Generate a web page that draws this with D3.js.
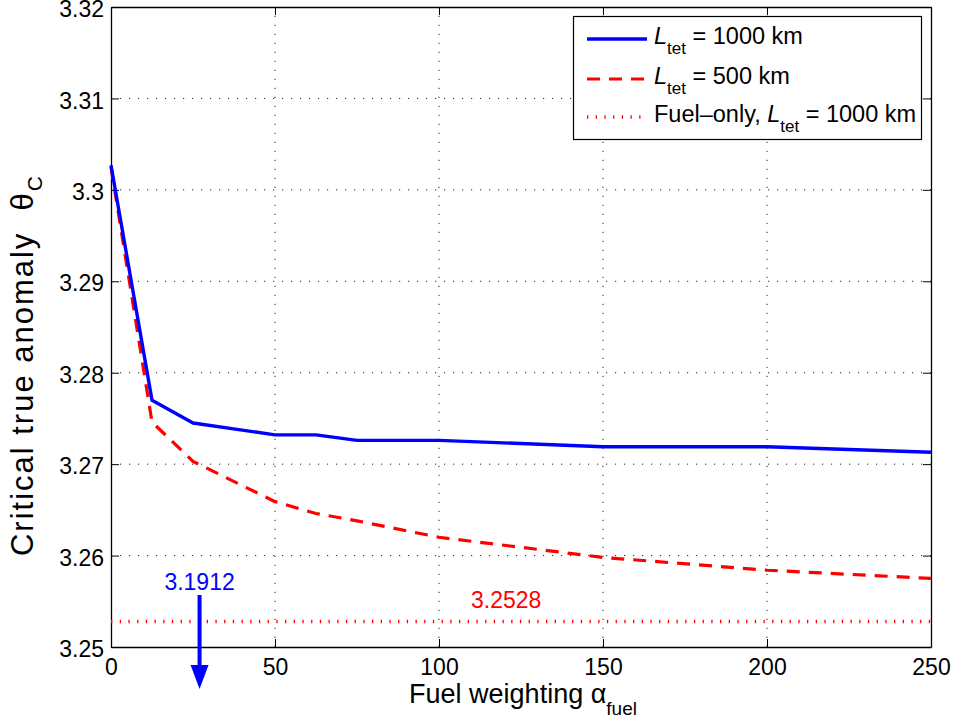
<!DOCTYPE html>
<html>
<head>
<meta charset="utf-8">
<script src="https://cdn.jsdelivr.net/npm/d3@7"></script>
<style>
body { margin: 0; background: #fff; }
text { font-family: "Liberation Sans", Arial, Helvetica, sans-serif; white-space: pre; }
</style>
</head>
<body>
<div id="chart"></div>
<script>
// Data
var alpha = [0, 12.5, 25, 50, 62.5, 75, 100, 150, 200, 250];
var theta1000 = [3.3027, 3.2770, 3.2745, 3.2732, 3.2732, 3.2726, 3.2726, 3.2719, 3.2719, 3.2713];
var theta500 = [3.3025, 3.2746, 3.2703, 3.2659, 3.2646, 3.2638, 3.2620, 3.2598, 3.2584, 3.2575];
var fuelOnly = 3.2528;
var xTicks = [0, 50, 100, 150, 200, 250];
var yTicks = [3.25, 3.26, 3.27, 3.28, 3.29, 3.30, 3.31, 3.32];
var yTickLabels = ['3.25', '3.26', '3.27', '3.28', '3.29', '3.3', '3.31', '3.32'];
// annotations
var arrowAlpha = 27, arrowLabel = '3.1912';
var fuelLabelAlpha = 120.5, fuelLabel = '3.2528';

var width = 956, height = 725;
var mLeft = 111, mRight = 931, mTop = 7, mBottom = 647;

var svg = d3.select('#chart').append('svg')
    .attr('width', width)
    .attr('height', height);

var x = d3.scaleLinear().domain([0, 250]).range([mLeft, mRight]);
var y = d3.scaleLinear().domain([3.25, 3.32]).range([mBottom, mTop]);

// grid
var grid = svg.append('g').attr('stroke', '#222').attr('stroke-width', 1).attr('stroke-dasharray', '1.2,7.8');
grid.selectAll('.gx').data(xTicks.slice(1, -1)).enter().append('line')
    .attr('x1', d => x(d)).attr('x2', d => x(d))
    .attr('y1', mBottom).attr('y2', mTop);
grid.selectAll('.gy').data(yTicks.slice(1, -1)).enter().append('line')
    .attr('x1', mLeft).attr('x2', mRight)
    .attr('y1', d => y(d)).attr('y2', d => y(d));

// axes (ticks pointing inward)
svg.append('g')
    .attr('class', 'xAxis')
    .attr('transform', 'translate(0,' + mBottom + ')')
    .call(d3.axisBottom(x).tickValues(xTicks).tickSizeInner(-8).tickSizeOuter(0).tickPadding(12));
svg.append('g')
    .attr('transform', 'translate(0,' + mTop + ')')
    .call(d3.axisTop(x).tickValues(xTicks).tickSizeInner(-8).tickSizeOuter(0).tickFormat(''));
svg.append('g')
    .attr('class', 'yAxis')
    .attr('transform', 'translate(' + mLeft + ',0)')
    .call(d3.axisLeft(y).tickValues(yTicks).tickSizeInner(-8).tickSizeOuter(0).tickPadding(7)
        .tickFormat((d, i) => yTickLabels[i]));
svg.append('g')
    .attr('transform', 'translate(' + mRight + ',0)')
    .call(d3.axisRight(y).tickValues(yTicks).tickSizeInner(-8).tickSizeOuter(0).tickFormat(''));

svg.selectAll('.domain').attr('stroke', '#000').attr('stroke-width', 1.3);
svg.selectAll('.tick line').attr('stroke', '#000').attr('stroke-width', 1);
svg.selectAll('.tick text').attr('font-size', 23).attr('fill', '#000')
    .style('font-family', '"Liberation Sans", Arial, sans-serif');
svg.selectAll('.yAxis .tick text').attr('dy', '0.42em');

// lines
var line = d3.line().x(d => x(d[0])).y(d => y(d[1]));

svg.append('path')
    .datum(alpha.map((a, i) => [a, theta500[i]]))
    .attr('d', line)
    .attr('fill', 'none')
    .attr('stroke', '#ff0000')
    .attr('stroke-width', 3.2)
    .attr('stroke-dasharray', '13,9');

svg.append('path')
    .datum(alpha.map((a, i) => [a, theta1000[i]]))
    .attr('d', line)
    .attr('fill', 'none')
    .attr('stroke', '#0000ff')
    .attr('stroke-width', 3.4)
    .attr('stroke-linejoin', 'round');

svg.append('line')
    .attr('x1', x(0)).attr('x2', x(250))
    .attr('y1', y(fuelOnly)).attr('y2', y(fuelOnly))
    .attr('stroke', '#ff0000')
    .attr('stroke-width', 3.5)
    .attr('stroke-dasharray', '1.3,7.4');

// annotations
svg.append('text')
    .attr('x', x(fuelLabelAlpha)).attr('y', y(fuelOnly) - 13)
    .attr('text-anchor', 'middle')
    .attr('font-size', 23).attr('fill', '#ff0000')
    .text(fuelLabel);

var ax = x(arrowAlpha);
svg.append('text')
    .attr('x', ax).attr('y', 590)
    .attr('text-anchor', 'middle')
    .attr('font-size', 23).attr('fill', '#0000ff')
    .text(arrowLabel);
svg.append('line')
    .attr('x1', ax).attr('x2', ax)
    .attr('y1', 595).attr('y2', 670)
    .attr('stroke', '#0000ff').attr('stroke-width', 4);
svg.append('path')
    .attr('d', 'M' + (ax - 9) + ',665 L' + (ax + 9) + ',665 L' + ax + ',689 Z')
    .attr('fill', '#0000ff');

// axis labels
var xl = svg.append('text')
    .attr('x', (mLeft + mRight) / 2 + 2).attr('y', 703)
    .attr('text-anchor', 'middle')
    .attr('font-size', 27);
xl.append('tspan').text('Fuel weighting ');
xl.append('tspan').text('α');
xl.append('tspan').attr('font-size', 19).attr('dy', 12).text('fuel');

var yl = svg.append('text')
    .attr('transform', 'translate(33,556)rotate(-90)')
    .attr('text-anchor', 'start')
    .attr('font-size', 31)
    .attr('textLength', 380)
    .attr('lengthAdjust', 'spacing');
yl.append('tspan').text('Critical true anomaly  θ');
yl.append('tspan').attr('font-size', 21).attr('dy', 9).text('C');

// legend
var legend = svg.append('g');
legend.append('rect')
    .attr('x', 573.5).attr('y', 16.5).attr('width', 348).attr('height', 123)
    .attr('fill', '#fff').attr('stroke', '#000').attr('stroke-width', 1.2);

var legItems = [
    { color: '#0000ff', dash: null, w: 3.4, pre: '', post: ' = 1000 km' },
    { color: '#ff0000', dash: '13,9', w: 3.2, pre: '', post: ' = 500 km' },
    { color: '#ff0000', dash: '1.3,7.4', w: 3.5, pre: 'Fuel\u2013only, ', post: ' = 1000 km' }
];
var rowY = [39, 79, 117];
legItems.forEach(function (it, i) {
    legend.append('line')
        .attr('x1', 587).attr('x2', 647)
        .attr('y1', rowY[i]).attr('y2', rowY[i])
        .attr('stroke', it.color).attr('stroke-width', it.w)
        .attr('stroke-dasharray', it.dash);
    var t = legend.append('text')
        .attr('x', 654).attr('y', rowY[i] + 5)
        .attr('font-size', 23.5);
    if (it.pre) t.append('tspan').text(it.pre);
    t.append('tspan').attr('font-style', 'italic').text('L');
    t.append('tspan').attr('font-size', 17).attr('dy', 10).text('tet');
    t.append('tspan').attr('dy', -10).text(it.post);
});
</script>
</body>
</html>
